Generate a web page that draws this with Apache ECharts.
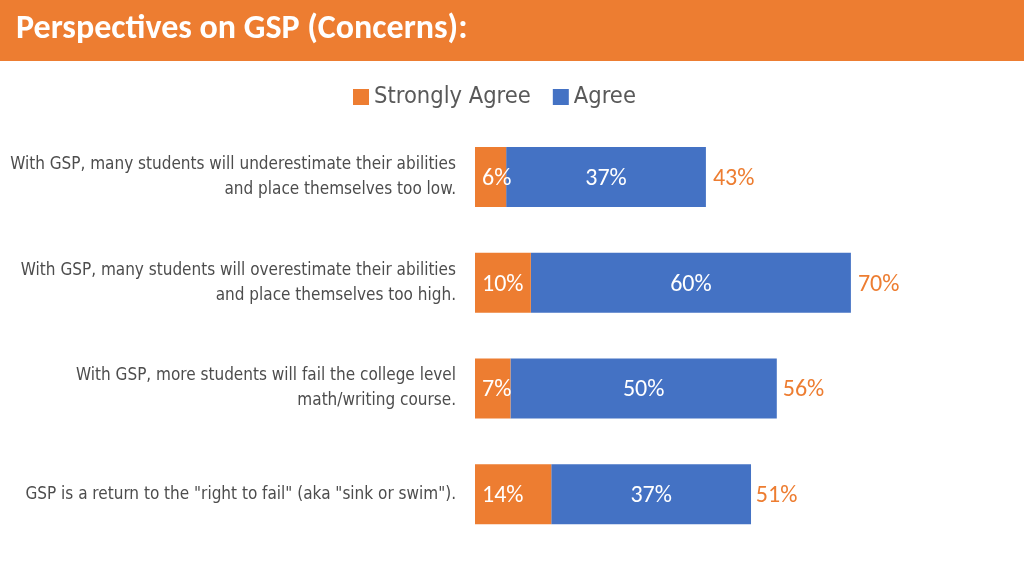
<!DOCTYPE html>
<html>
<head>
<meta charset="utf-8">
<script src="https://cdn.jsdelivr.net/npm/echarts@6/dist/echarts.min.js"></script>
<style>html,body{margin:0;padding:0;background:#fff}#c{width:1024px;height:576px}</style>
</head>
<body>
<div id="c"></div>
<script>
const categories = [
  'With GSP, many students will underestimate their abilities\nand place themselves too low.',
  'With GSP, many students will overestimate their abilities\nand place themselves too high.',
  'With GSP, more students will fail the college level\nmath/writing course.',
  'GSP is a return to the "right to fail" (aka "sink or swim").'
];
const stronglyAgree = [5.8, 10.4, 6.6, 14.2];
const agree = [37.2, 59.6, 49.6, 37.2];
const totals = [43, 70, 56, 51];

const condensed = '"Liberation Sans Narrow", "DejaVu Sans Condensed", "Noto Sans", sans-serif';
const body = 'Carlito, "Open Sans", "Liberation Sans", sans-serif';
const chart = echarts.init(document.getElementById('c'));
chart.setOption({
  animation: false,
  backgroundColor: '#fff',
  graphic: [
    { type: 'rect', left: 0, top: 0, shape: { width: 1024, height: 61 }, style: { fill: '#ED7D31' }, z: 0 },
    { type: 'text', left: 16, top: 12, style: { text: 'Perspectives on GSP (Concerns):', fill: '#fff', font: 'bold 34px ' + body }, z: 1 }
  ],
  legend: {
    data: ['Strongly Agree', 'Agree'],
    left: 348, top: 80,
    itemWidth: 16, itemHeight: 16, itemGap: 22,
    icon: 'rect',
    textStyle: { fontFamily: condensed, fontSize: 23.5, color: '#595959' }
  },
  grid: { left: 475, right: 12, top: 124, bottom: 29 },
  xAxis: { type: 'value', min: 0, max: 100, show: false },
  yAxis: {
    type: 'category', inverse: true, data: categories,
    axisLine: { show: false }, axisTick: { show: false },
    axisLabel: { margin: 19, fontFamily: condensed, fontSize: 17, color: '#4d4d4d', lineHeight: 25, align: 'right' }
  },
  series: [
    {
      name: 'Strongly Agree', type: 'bar', stack: 'a', data: stronglyAgree, barWidth: 60,
      itemStyle: { color: '#ED7D31' },
      label: { show: true, position: 'insideLeft', distance: 7, offset: [0, 2], color: '#fff', fontFamily: body, fontSize: 24, formatter: p => Math.round(p.value) + '%' },
      z: 3
    },
    {
      name: 'Agree', type: 'bar', stack: 'a', data: agree, barWidth: 60,
      itemStyle: { color: '#4472C4' },
      label: { show: true, position: 'inside', offset: [0, 2], color: '#fff', fontFamily: body, fontSize: 24, formatter: p => Math.round(p.value) + '%' },
      z: 2
    },
    {
      name: 'Total', type: 'bar', data: totals, barWidth: 60, barGap: '-100%',
      itemStyle: { color: 'rgba(0,0,0,0)' },
      label: { show: true, position: 'right', distance: 7, offset: [0, 2], color: '#ED7D31', fontFamily: body, fontSize: 24, formatter: p => p.value + '%' },
      z: 1, silent: true
    }
  ]
});
</script>
</body>
</html>
